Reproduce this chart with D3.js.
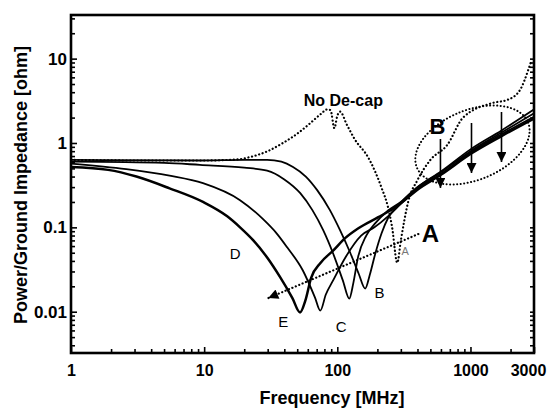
<!DOCTYPE html>
<html>
<head>
<meta charset="utf-8">
<script src="https://cdn.jsdelivr.net/npm/d3@7"></script>
<style>
  body { margin: 0; background: #fff; }
  svg { display: block; font-family: "Liberation Sans", Arial, sans-serif; }
</style>
</head>
<body>
<svg width="556" height="418"></svg>
<script>
// tick labels
const freqTicks = [1, 10, 100, 1000, 3000];
const freqTickLabels = ['1', '10', '100', '1000', '3000'];
const ohmTicks = [0.01, 0.1, 1, 10];
const ohmTickLabels = ['0.01', '0.1', '1', '10'];

// [MHz, ohm]
const noDecap = [[1, 0.63], [3, 0.62], [10, 0.62], [18, 0.64], [22, 0.68], [30, 0.8], [39, 1.0], [52, 1.35],
  [62.9, 1.73], [75, 2.2], [84, 2.5], [89, 2.45], [95, 1.5], [100, 2.1], [105, 2.35], [118, 1.64], [136, 1.09],
  [170, 0.68], [214, 0.3], [241, 0.17], [258, 0.1], [282, 0.038], [300, 0.07], [343, 0.21], [400, 0.363],
  [500, 0.63], [670, 0.95], [880, 2.0], [1480, 2.99], [1900, 3.25], [2360, 4.27], [2720, 7.4], [2850, 9.2]];

const res52 = [[1, 0.52], [1.9, 0.48], [3.1, 0.4], [5.5, 0.29], [9.8, 0.2], [14.9, 0.135], [18.6, 0.1],
  [23.4, 0.07], [30, 0.043], [37, 0.026], [46, 0.0145], [52.5, 0.0098], [57.6, 0.0136], [63.5, 0.025],
  [75, 0.038], [93, 0.053], [115, 0.075], [143, 0.097], [203, 0.132], [260, 0.165], [320, 0.21], [400, 0.28],
  [600, 0.42], [1000, 0.74], [1700, 1.2], [3000, 1.95]];

const res75 = [[1, 0.57], [2.6, 0.49], [5.5, 0.41], [9.8, 0.334], [18.6, 0.21], [27.7, 0.125], [35, 0.085],
  [42, 0.058], [55, 0.031], [68, 0.0147], [74.5, 0.0103], [82, 0.016], [93, 0.0235], [115, 0.044],
  [151, 0.08], [190, 0.1], [240, 0.135], [300, 0.19], [400, 0.29], [600, 0.43], [1000, 0.77], [1700, 1.26],
  [3000, 2.05]];

const res123 = [[1, 0.6], [5, 0.58], [9.3, 0.55], [20, 0.51], [29.7, 0.47], [40, 0.37], [52.7, 0.254],
  [65, 0.16], [78.5, 0.092], [93, 0.049], [110, 0.0235], [123, 0.0143], [132, 0.022], [143, 0.044],
  [165, 0.08], [193, 0.112], [237, 0.155], [300, 0.2], [400, 0.3], [600, 0.45], [1000, 0.8], [1700, 1.32],
  [3000, 2.25]];

const res162 = [[1, 0.63], [9.3, 0.62], [20, 0.63], [29.7, 0.63], [38, 0.6], [46.5, 0.52], [58, 0.4],
  [70.6, 0.276], [88, 0.16], [105, 0.092], [125, 0.05], [145, 0.028], [162, 0.0188], [175, 0.027],
  [193, 0.049], [215, 0.085], [241, 0.13], [280, 0.175], [400, 0.3], [600, 0.46], [1000, 0.84], [1700, 1.4],
  [3000, 2.5]];

// annotations, anchored in data units
const curveLabels = [
  { text: 'D', f: 17.1, z: 0.0483 },
  { text: 'E', f: 39.3, z: 0.00755 },
  { text: 'C', f: 107, z: 0.00659 },
  { text: 'B', f: 207, z: 0.0167 },
];
const downArrows = [[595, 1.116, 0.293], [1018, 1.726, 0.441], [1710, 2.33, 0.595]];

const svg = d3.select('svg');
const x = d3.scaleLog().domain([1, 3000]).range([71, 534]);
const y = d3.scaleLog().domain([0.00324, 32.9]).range([353, 15]);

const defs = svg.append('defs');
defs.append('clipPath').attr('id', 'plot')
  .append('rect').attr('x', 71).attr('y', 15).attr('width', 463).attr('height', 338);

defs.append('marker').attr('id', 'head')
  .attr('viewBox', '0 0 10 10').attr('refX', 10).attr('refY', 5)
  .attr('markerWidth', 13).attr('markerHeight', 10).attr('markerUnits', 'userSpaceOnUse')
  .attr('orient', 'auto')
  .append('path').attr('d', 'M0,0L10,5L0,10z').attr('fill', '#000');

// axes: major ticks with labels, minor ticks without
const xMinor = x.ticks().filter(v => !freqTicks.includes(v));
const yMinor = y.ticks().filter(v => !ohmTicks.includes(v));

const xAxis = svg.append('g').attr('transform', 'translate(0,353)')
  .call(d3.axisBottom(x).tickValues(freqTicks).tickSize(-6).tickPadding(12)
    .tickFormat((d, i) => freqTickLabels[i]));
xAxis.append('g').call(d3.axisBottom(x).tickValues(xMinor).tickSize(-4).tickFormat(''));
xAxis.selectAll('.domain').remove();
xAxis.selectAll('text').attr('font-size', 16).attr('font-weight', 'bold').attr('fill', '#000')
  .attr('font-family', '"Liberation Sans", Arial, sans-serif')
  .attr('dx', d => (d === 3000 ? -6 : 0));

const yAxis = svg.append('g').attr('transform', 'translate(71,0)')
  .call(d3.axisLeft(y).tickValues(ohmTicks).tickSize(-6).tickPadding(4)
    .tickFormat((d, i) => ohmTickLabels[i]));
yAxis.append('g').call(d3.axisLeft(y).tickValues(yMinor).tickSize(-4).tickFormat(''));
yAxis.selectAll('.domain').remove();
yAxis.selectAll('text').attr('font-size', 17).attr('font-weight', 'bold').attr('fill', '#000')
  .attr('font-family', '"Liberation Sans", Arial, sans-serif');

const rAxis = svg.append('g').attr('transform', 'translate(534,0)')
  .call(d3.axisRight(y).tickValues(y.ticks()).tickSize(-4).tickFormat(''));
rAxis.selectAll('.domain').remove();
svg.selectAll('.tick line').attr('stroke-width', 1.6);

// curves
const line = d3.line().x(d => x(d[0])).y(d => y(d[1])).curve(d3.curveMonotoneX);
const plot = svg.append('g').attr('clip-path', 'url(#plot)');

[[res162, 1.8], [res123, 1.8], [res75, 1.8], [res52, 2.5]].forEach(([data, w]) => {
  plot.append('path').attr('d', line(data))
    .attr('fill', 'none').attr('stroke', '#000').attr('stroke-width', w);
});

plot.append('path').attr('d', line(noDecap))
  .attr('fill', 'none').attr('stroke', '#000').attr('stroke-width', 2.2)
  .attr('stroke-linecap', 'round').attr('stroke-dasharray', '0.1 3.6');

// frame
svg.append('rect').attr('x', 71).attr('y', 15).attr('width', 463).attr('height', 338)
  .attr('fill', 'none').attr('stroke', '#000').attr('stroke-width', 2.6);

// annotation B: dotted ellipse with three arrows
svg.append('ellipse')
  .attr('cx', 0).attr('cy', 0).attr('rx', 60).attr('ry', 35)
  .attr('transform', `translate(${x(1035)},${y(0.947)}) rotate(-22)`)
  .attr('fill', 'none').attr('stroke', '#000').attr('stroke-width', 2)
  .attr('stroke-linecap', 'round').attr('stroke-dasharray', '0.1 3.4');

downArrows.forEach(([f, z0, z1]) => {
  svg.append('line')
    .attr('x1', x(f)).attr('x2', x(f)).attr('y1', y(z0)).attr('y2', y(z1))
    .attr('stroke', '#000').attr('stroke-width', 1.6).attr('marker-end', 'url(#head)');
});

// annotation A: dotted arrow
svg.append('line')
  .attr('x1', x(406)).attr('y1', y(0.0833)).attr('x2', x(30.3)).attr('y2', y(0.0145))
  .attr('stroke', '#000').attr('stroke-width', 2.2).attr('stroke-linecap', 'round')
  .attr('stroke-dasharray', '0.1 3.6').attr('marker-end', 'url(#head)');

// texts
svg.selectAll('.clabel').data(curveLabels).join('text')
  .attr('class', 'clabel')
  .attr('x', d => x(d.f)).attr('y', d => y(d.z))
  .attr('text-anchor', 'middle').attr('dy', '0.36em')
  .attr('font-size', 15).attr('fill', '#000')
  .text(d => d.text);

svg.append('text').attr('x', x(324)).attr('y', y(0.0525)).attr('dy', '0.36em')
  .attr('text-anchor', 'middle').attr('font-size', 11).attr('fill', '#777').text('A');

svg.append('text').attr('x', x(500)).attr('y', y(0.0857)).attr('dy', '0.36em')
  .attr('text-anchor', 'middle').attr('font-size', 24).attr('font-weight', 'bold').text('A');

svg.append('text').attr('x', x(565)).attr('y', y(1.59)).attr('dy', '0.36em')
  .attr('text-anchor', 'middle').attr('font-size', 22).attr('font-weight', 'bold').text('B');

svg.append('text').attr('x', x(111)).attr('y', y(3.24)).attr('dy', '0.36em')
  .attr('text-anchor', 'middle').attr('font-size', 16).attr('font-weight', 'bold').text('No De-cap');

svg.append('text').attr('x', 332).attr('y', 404)
  .attr('text-anchor', 'middle').attr('font-size', 18).attr('font-weight', 'bold')
  .text('Frequency [MHz]');

svg.append('text').attr('transform', 'translate(27,185) rotate(-90)')
  .attr('text-anchor', 'middle').attr('font-size', 18).attr('font-weight', 'bold')
  .text('Power/Ground Impedance [ohm]');
</script>
</body>
</html>
